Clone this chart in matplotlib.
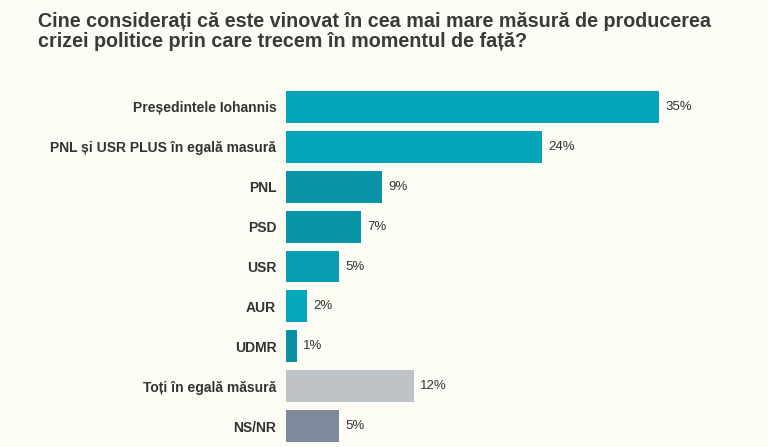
import matplotlib
matplotlib.use("Agg")
import matplotlib.pyplot as plt

labels = ["Președintele Iohannis", "PNL și USR PLUS în egală masură", "PNL", "PSD",
          "USR", "AUR", "UDMR", "Toți în egală măsură", "NS/NR"]
values = [35, 24, 9, 7, 5, 2, 1, 12, 5]
colors = ["#04a5b9", "#04a5b9", "#0892a5", "#0892a5", "#0a9db1", "#08a8bc",
          "#0891a3", "#bdc3c7", "#7d8a9c"]
TITLE = ("Cine considerați că este vinovat în cea mai mare măsură de producerea\n"
         "crizei politice prin care trecem în momentul de față?")
BG = "#fcfcf4"

plt.rcParams["font.family"] = ["Liberation Sans", "DejaVu Sans"]

fig = plt.figure(figsize=(7.68, 4.47), dpi=100, facecolor=BG)
ax = fig.add_axes([286 / 768, 1 - 446 / 447, 482 / 768, 359 / 447])
ax.set_facecolor(BG)

y = range(len(labels))
ax.barh(y, values, height=0.8, color=colors)
for i, v in enumerate(values):
    ax.text(v + 0.6, i, f"{v}%", va="center", ha="left", fontsize=9.5,
            color="#333333")

ax.set_xlim(0, 45.2)
ax.set_ylim(len(labels) - 0.5, -0.5)
ax.set_yticks(list(y))
ax.set_yticklabels(labels, fontsize=10, fontweight="bold", color="#333333")
ax.tick_params(axis="y", length=0, pad=7)
ax.set_xticks([])
for s in ax.spines.values():
    s.set_visible(False)

fig.text(38 / 768, 1 - 12 / 447, TITLE, ha="left", va="top", fontsize=14.2,
         fontweight="bold", color="#3a3a3a", linespacing=1.08)

fig.savefig("out.png", dpi=100, facecolor=BG)
